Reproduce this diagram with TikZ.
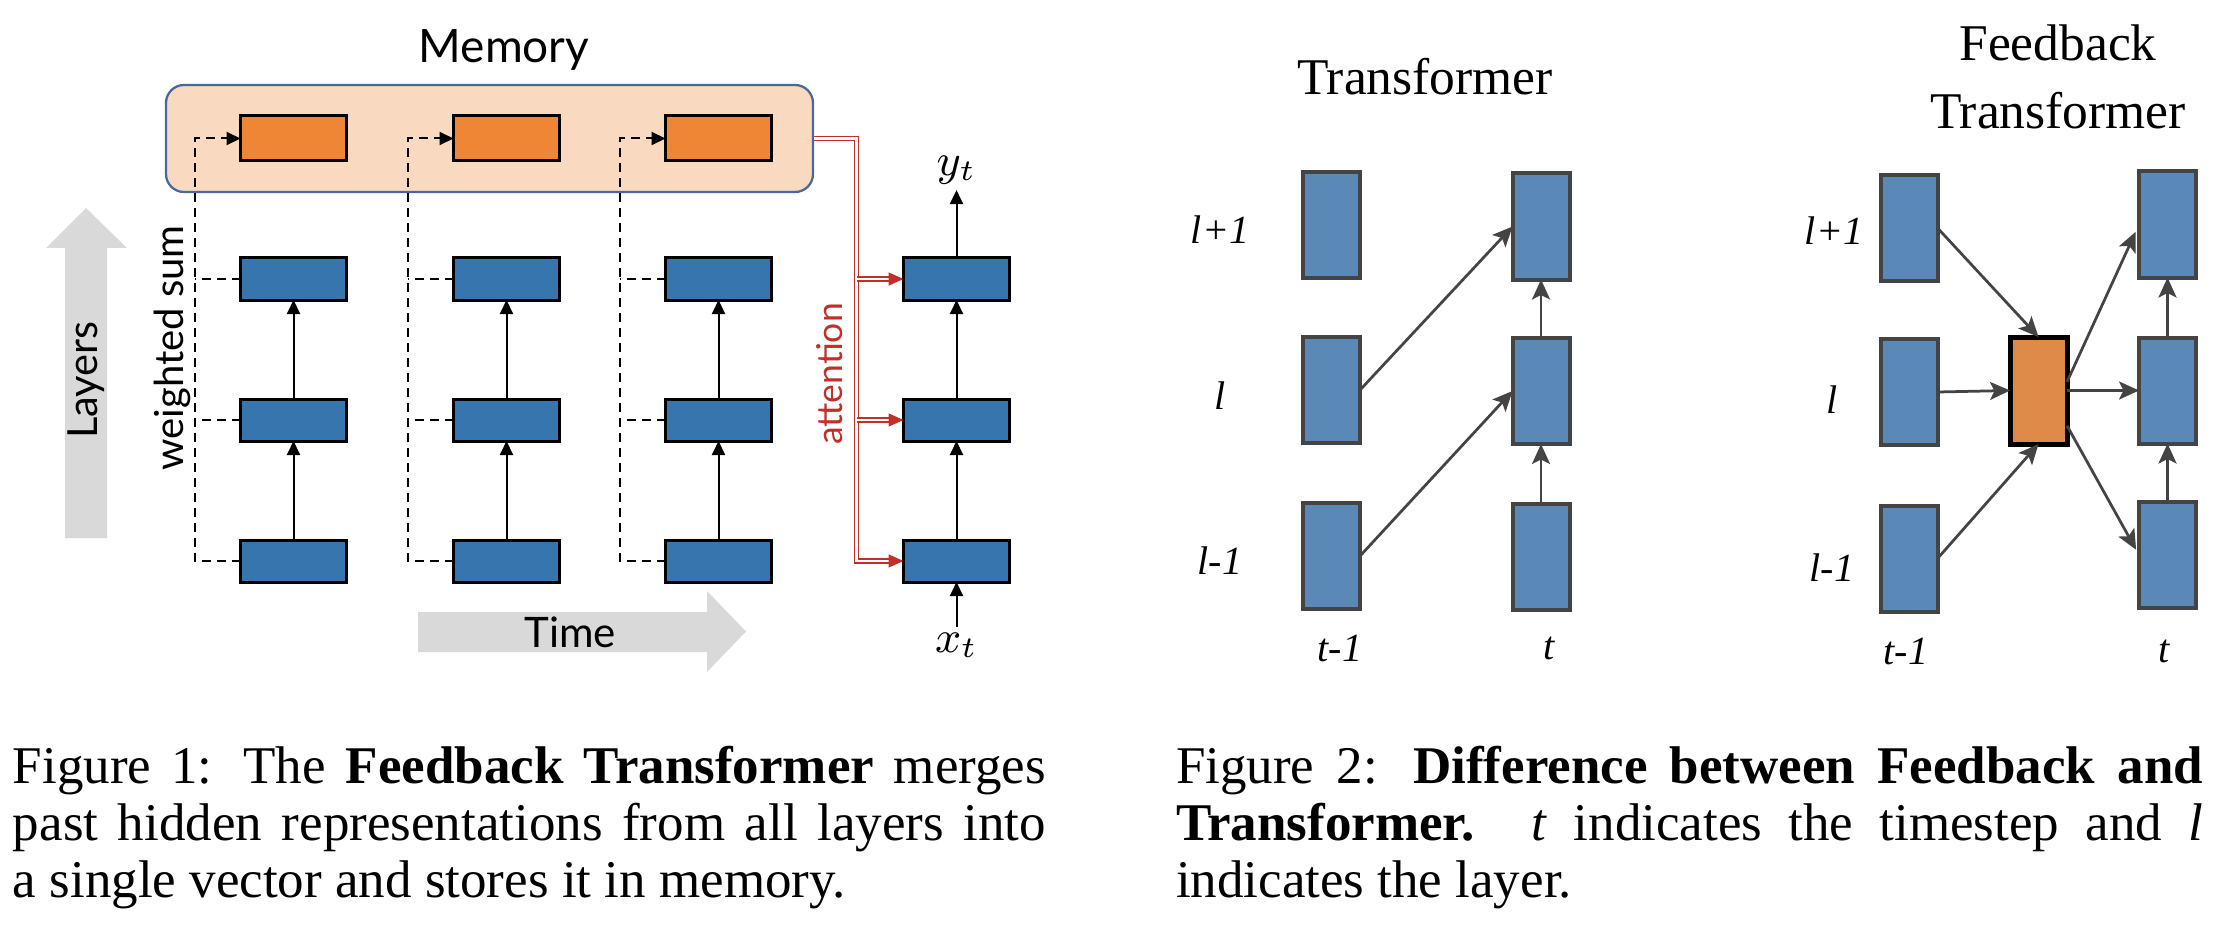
\documentclass[tikz,border=0pt]{standalone}
\usepackage{fontspec}
\setmainfont{Liberation Serif}
\newfontfamily\labelsans{Lato}
\usetikzlibrary{arrows.meta,calc}

\definecolor{memfill}{RGB}{249,217,191}
\definecolor{memdraw}{RGB}{72,104,160}
\definecolor{slotorange}{RGB}{238,134,54}
\definecolor{hidblue}{RGB}{54,117,174}
\definecolor{attred}{RGB}{192,48,40}
\definecolor{bigarrowgray}{RGB}{217,217,217}
\definecolor{cellblue}{RGB}{90,137,184}
\definecolor{mergeorange}{RGB}{224,138,74}
\definecolor{edgegray}{RGB}{68,68,68}

\newcommand\capfont{\fontsize{10.6}{11.2}\selectfont}

\begin{document}
\begin{tikzpicture}[x=0.2pt,y=-0.2pt,
  hidden/.style={draw=black, fill=hidblue, line width=0.6pt,
    minimum width=21.2pt, minimum height=8.4pt, inner sep=0pt, outer sep=0pt},
  memslot/.style={hidden, fill=slotorange, minimum height=9pt},
  membank/.style={draw=memdraw, fill=memfill, line width=0.45pt,
    rounded corners=3.6pt, minimum width=129.4pt, minimum height=21.4pt, inner sep=0pt},
  upflow/.style={black, line width=0.4pt, -{Triangle[length=2.8pt,width=2.6pt]}},
  sumline/.style={black, line width=0.4pt, dash pattern=on 1.8pt off 1.2pt},
  sumarrow/.style={sumline, -{Triangle[length=2.8pt,width=2.6pt]}},
  attend/.style={draw=attred, double=white, double distance=0.5pt, line width=0.3pt,
    -{Triangle[length=3pt,width=2.6pt]}},
  sanslabel/.style={inner sep=0pt},
  bigarrow/.style={fill=bigarrowgray, draw=none},
  cell/.style={draw=edgegray, fill=cellblue, line width=0.8pt,
    minimum width=11.4pt, minimum height=21.2pt, inner sep=0pt, outer sep=0pt},
  merged/.style={cell, draw=black, fill=mergeorange, line width=1pt, minimum height=21.4pt},
  link/.style={draw=edgegray, line width=0.55pt, -{Stealth[length=4pt,width=3.6pt,inset=0.9pt]}},
  axislabel/.style={font=\fontsize{8}{9}\selectfont\itshape, inner sep=0pt},
  title/.style={font=\fontsize{10.3}{13.6}\selectfont, align=center, inner sep=0pt},
  capline/.style={anchor=base west, inner sep=0pt}]

\useasboundingbox (0,0) rectangle (2236,932);

%% ---------------- Feedback Transformer overview ----------------
% background arrows
\path[bigarrow] (65,538) -- (65,248) -- (46,248) -- (86,208) -- (127,248) -- (107,248) -- (107,538) -- cycle;
\path[bigarrow] (418,612) -- (707,612) -- (707,591) -- (746,631.5) -- (707,672) -- (707,652) -- (418,652) -- cycle;
\node[sanslabel, rotate=90, font=\labelsans\fontsize{8.3}{10}\selectfont] (layers) at (86,380) {Layers};
\node[sanslabel, font=\labelsans\fontsize{8.4}{10}\selectfont] (time) at (570,632) {Time};

% memory bank
\node[membank] (mem) at (489.5,138.5) {};
\node[sanslabel, font=\labelsans\fontsize{9.2}{11}\selectfont] (memlabel) at (504,50) {Memory};

% past time steps
\foreach \i/\x in {1/293.5, 2/506.5, 3/718.5} {
  \node[memslot] (m\i) at (\x,138.5) {};
  \node[hidden] (h\i1) at (\x,561) {};
  \node[hidden] (h\i2) at (\x,420) {};
  \node[hidden] (h\i3) at (\x,279) {};
  \draw[upflow] (h\i1) -- (h\i2);
  \draw[upflow] (h\i2) -- (h\i3);
  \draw[sumarrow] (h\i1.west) -- ++(-46,0) |- (m\i.west);
  \draw[sumline] (h\i2.west) -- ++(-46,0);
  \draw[sumline] (h\i3.west) -- ++(-46,0);
}
\node[sanslabel, rotate=90, font=\labelsans\fontsize{8}{10}\selectfont] (wsum) at (172,348) {weighted sum};

% current time step
\node[hidden] (c1) at (956.5,561) {};
\node[hidden] (c2) at (956.5,420) {};
\node[hidden] (c3) at (956.5,279) {};
\draw[upflow] (c1) -- (c2);
\draw[upflow] (c2) -- (c3);
\node[inner sep=1pt, font=\fontsize{9}{10}\selectfont] (yt) at (956.5,170) {$y_t$};
\node[inner sep=1pt, font=\fontsize{9}{10}\selectfont] (xt) at (956.5,645) {$x_t$};
\draw[upflow] (c3) -- (yt);
\draw[upflow] (xt) -- (c1);

% attention to memory
\draw[attend] (mem.east) -| ($(c1.west)+(-47,0)$) -- (c1.west);
\draw[attend] ($(c2.west)+(-47,0)$) -- (c2.west);
\draw[attend] ($(c3.west)+(-47,0)$) -- (c3.west);
\node[sanslabel, rotate=90, text=attred, font=\labelsans\fontsize{7.1}{9}\selectfont] (attn) at (830,374) {attention};

%% ---------------- Transformer ----------------
\node[title] (ttitle) at (1425,77) {Transformer};
\node[cell] (a1) at (1331.5,556) {};
\node[cell] (a2) at (1331.5,390) {};
\node[cell] (a3) at (1331.5,225) {};
\node[cell] (b1) at (1541,556.5) {};
\node[cell] (b2) at (1541,391) {};
\node[cell] (b3) at (1541,226.5) {};
\draw[link] (a2.east) -- (b3.west);
\draw[link] (a1.east) -- (b2.west);
\draw[link] (b1) -- (b2);
\draw[link] (b2) -- (b3);
\node[axislabel] (tl3) at (1220,230) {l+1};
\node[axislabel] (tl2) at (1220,396) {l};
\node[axislabel] (tl1) at (1220,561) {l-1};
\node[axislabel] (tt0) at (1340,648) {t-1};
\node[axislabel] (tt1) at (1549,648) {t};

%% ---------------- Feedback Transformer ----------------
\node[title] (ftitle) at (2058,77) {Feedback\\Transformer};
\node[cell] (f1) at (1909,558.5) {};
\node[cell] (f2) at (1909,392) {};
\node[cell] (f3) at (1909,228) {};
\node[cell] (g1) at (2167.5,555) {};
\node[cell] (g2) at (2167.5,390.5) {};
\node[cell] (g3) at (2167.5,224.5) {};
\node[merged] (fbm) at (2038.5,390.5) {};
\draw[link] (f3.east) -- (fbm.north);
\draw[link] (f2.east) -- (fbm.west);
\draw[link] (f1.east) -- (fbm.south);
\draw[link] (fbm.east) -- (g2.west);
\draw[link, shorten >=1.6pt] (fbm.17) -- (g3.west);
\draw[link, shorten >=1.2pt] (fbm.-51) -- (g1.west);
\draw[link] (g1) -- (g2);
\draw[link] (g2) -- (g3);
\node[axislabel] (fl3) at (1834,231) {l+1};
\node[axislabel] (fl2) at (1832,400) {l};
\node[axislabel] (fl1) at (1832,568) {l-1};
\node[axislabel] (ft0) at (1906,651) {t-1};
\node[axislabel] (ft1) at (2164,651) {t};

%% ---------------- captions ----------------
\node[capline] (capA1) at (12,783)
  {\capfont\makebox[206.6pt][s]{Figure 1: The \textbf{Feedback Transformer} merges}};
\node[capline] (capA2) at (12,840)
  {\capfont\makebox[206.6pt][s]{past hidden representations from all layers into}};
\node[capline] (capA3) at (12,897)
  {\capfont a single vector and stores it in memory.};
\node[capline] (capB1) at (1175,783)
  {\capfont\makebox[205.4pt][s]{Figure 2: \textbf{Difference between Feedback and}}};
\node[capline] (capB2) at (1175,840)
  {\capfont\makebox[205.4pt][s]{\textbf{Transformer.} \textit{t} indicates the timestep and \textit{l}}};
\node[capline] (capB3) at (1175,897)
  {\capfont indicates the layer.};
\end{tikzpicture}
\end{document}
